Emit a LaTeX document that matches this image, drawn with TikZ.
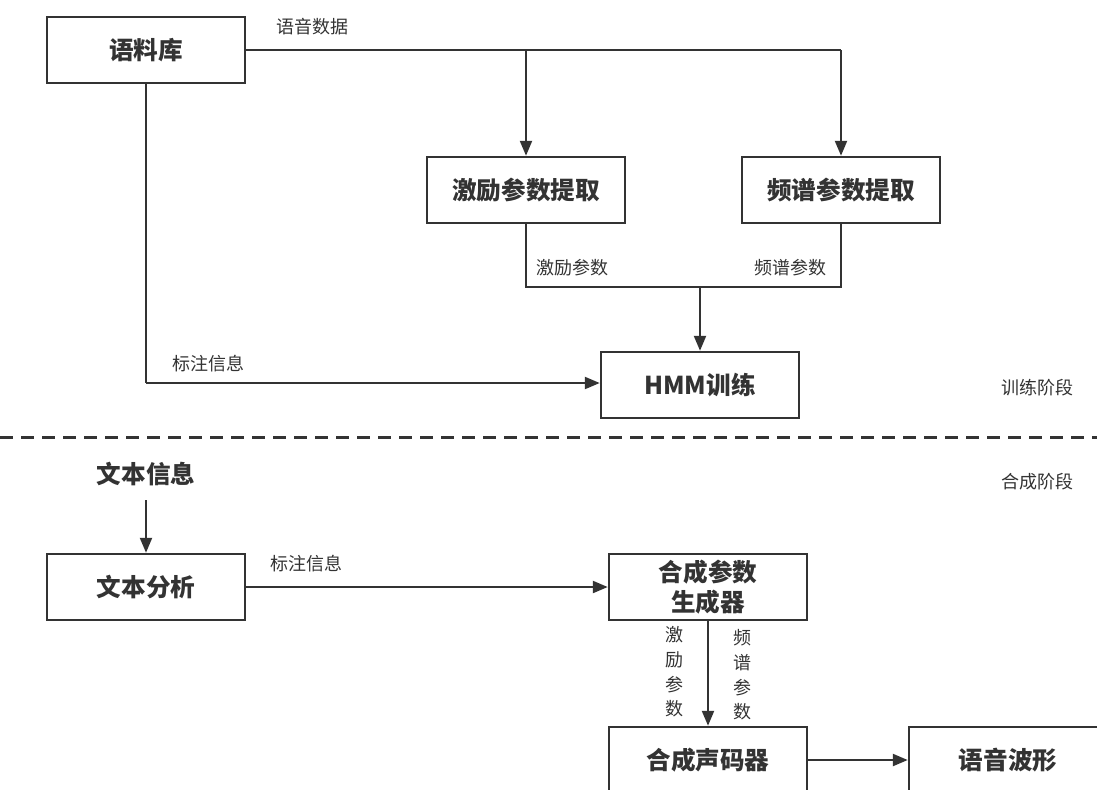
\documentclass[tikz,border=0pt]{standalone}
\usepackage{fontspec}
\setmainfont{Noto Sans CJK SC}
\usetikzlibrary{arrows.meta}
\definecolor{ink}{HTML}{333333}
\begin{document}
\begin{tikzpicture}[x=0.5pt,y=-0.5pt,
  box/.style={draw=ink, line width=1.25pt, fill=white, minimum width=99pt, minimum height=33pt, inner sep=0pt,
    font=\fontsize{12.3}{15}\selectfont\bfseries, text=ink, align=center},
  lab/.style={font=\fontsize{9}{12.3}\selectfont, text=ink, inner sep=0pt, align=center},
  conn/.style={draw=ink, line width=1.15pt},
  arr/.style={conn, -{Triangle[length=7.5pt,width=6pt]}}]
\useasboundingbox (0,0) rectangle (1097,789);
\clip (0,0) rectangle (1097,789);
% training stage
\node[box] (corpus) at (146,50) {语料库};
\node[box] (exc) at (526,190) {激励参数提取};
\node[box] (spec) at (841,190) {频谱参数提取};
\node[box] (hmm) at (700,385) {HMM训练};
\coordinate (j1) at (526,50);
\coordinate (j2) at (841,50);
\coordinate (m1) at (526,287);
\coordinate (m2) at (841,287);
\coordinate (m) at (700,287);
\coordinate (c1) at (146,383);
\draw[conn] (corpus.east) -- (j2);
\draw[arr] (j1) -- (exc.north);
\draw[arr] (j2) -- (spec.north);
\draw[conn] (exc.south) -- (m1) -- (m2) -- (spec.south);
\draw[arr] (m) -- (hmm.north);
\draw[conn] (corpus.south) -- (c1);
\draw[arr] (c1) -- (hmm.west |- c1);
\node[lab] (l1) at (312,27) {语音数据};
\node[lab] (l2) at (572,268) {激励参数};
\node[lab] (l3) at (790,268) {频谱参数};
\node[lab] (l4) at (208,364) {标注信息};
\node[lab] (st1) at (1037,388) {训练阶段};
% separator
\coordinate (d1) at (0,437);
\coordinate (d2) at (1097,437);
\draw[draw=ink, line width=1.5pt, dash pattern=on 6.3pt off 4.2pt] (d1) -- (d2);
\node[lab] (st2) at (1037,482) {合成阶段};
% synthesis stage
\node[box, draw=none, fill=none] (tinfo) at (146,474) {文本信息};
\node[box] (tan) at (146,587) {文本分析};
\node[box] (gen) at (708,587) {合成参数\\生成器};
\node[box] (voc) at (708,760) {合成声码器};
\node[box] (wave) at (1008,760) {语音波形};
\draw[arr] (146,500) coordinate (t0) -- (tan.north);
\draw[arr] (tan.east) -- (gen.west);
\node[lab] (l5) at (306,564) {标注信息};
\draw[arr] (gen.south) -- (voc.north);
\node[lab] (l6) at (674,672) {激\\励\\参\\数};
\node[lab] (l7) at (742,675) {频\\谱\\参\\数};
\draw[arr] (voc.east) -- (wave.west);
\end{tikzpicture}
\end{document}
